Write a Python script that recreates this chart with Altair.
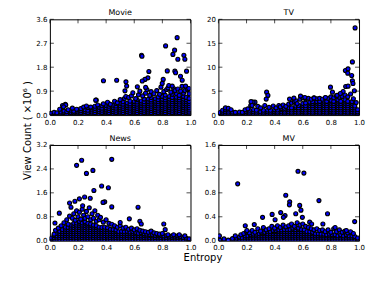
import altair as alt
import pandas as pd

panel_names = ["Movie", "TV", "News", "MV"]
x_ticks = [0.0, 0.2, 0.4, 0.6, 0.8, 1.0]
movie_y_ticks = [0.0, 0.9, 1.8, 2.7, 3.6]
tv_y_ticks = [0, 5, 10, 15, 20]
news_y_ticks = [0.0, 0.8, 1.6, 2.4, 3.2]
mv_y_ticks = [0.0, 0.4, 0.8, 1.2, 1.6]

# ---- Movie: dense mass (x, [y...]) and scattered points (x, y)
movie_bulk = [
    (0.01, [0.02, 0.07]), (0.03, [0.03, 0.10]), (0.05, [0.02, 0.08]), (0.08, [0.03, 0.11]),
    (0.10, [0.02, 0.09, 0.15]), (0.12, [0.04, 0.12]), (0.15, [0.03, 0.10, 0.18]),
    (0.17, [0.02, 0.08, 0.14]), (0.20, [0.03, 0.11, 0.19]), (0.22, [0.02, 0.09, 0.16, 0.24]),
    (0.25, [0.04, 0.12, 0.20]), (0.27, [0.02, 0.10, 0.18, 0.28]), (0.30, [0.03, 0.11, 0.19, 0.27]),
    (0.32, [0.02, 0.09, 0.17, 0.25, 0.33]), (0.35, [0.04, 0.12, 0.20, 0.29]),
    (0.37, [0.02, 0.10, 0.18, 0.26, 0.35]), (0.40, [0.03, 0.11, 0.19, 0.27, 0.36]),
    (0.42, [0.02, 0.09, 0.17, 0.25, 0.33, 0.42]), (0.45, [0.04, 0.12, 0.20, 0.28, 0.37]),
    (0.47, [0.02, 0.10, 0.18, 0.26, 0.34, 0.43]), (0.50, [0.03, 0.11, 0.19, 0.27, 0.35, 0.44]),
    (0.52, [0.02, 0.09, 0.17, 0.25, 0.33, 0.41, 0.50]), (0.55, [0.04, 0.12, 0.20, 0.28, 0.36, 0.45]),
    (0.57, [0.02, 0.10, 0.18, 0.26, 0.34, 0.42, 0.52]), (0.60, [0.03, 0.11, 0.19, 0.27, 0.35, 0.43, 0.51]),
    (0.62, [0.02, 0.09, 0.17, 0.25, 0.33, 0.41, 0.49, 0.58]),
    (0.65, [0.04, 0.12, 0.20, 0.28, 0.36, 0.44, 0.53]),
    (0.67, [0.02, 0.10, 0.18, 0.26, 0.34, 0.42, 0.50, 0.60]),
    (0.70, [0.03, 0.11, 0.19, 0.27, 0.35, 0.43, 0.51, 0.60]),
    (0.72, [0.02, 0.09, 0.17, 0.25, 0.33, 0.41, 0.49, 0.57, 0.66]),
    (0.75, [0.04, 0.12, 0.20, 0.28, 0.36, 0.44, 0.52, 0.61]),
    (0.77, [0.02, 0.10, 0.18, 0.26, 0.34, 0.42, 0.50, 0.58, 0.68]),
    (0.80, [0.03, 0.11, 0.19, 0.27, 0.35, 0.43, 0.51, 0.59, 0.70]),
    (0.82, [0.02, 0.09, 0.17, 0.25, 0.33, 0.41, 0.49, 0.57, 0.65, 0.75]),
    (0.85, [0.04, 0.12, 0.20, 0.28, 0.36, 0.44, 0.52, 0.60, 0.70]),
    (0.87, [0.02, 0.10, 0.18, 0.26, 0.34, 0.42, 0.50, 0.58, 0.66, 0.78]),
    (0.90, [0.03, 0.11, 0.19, 0.27, 0.35, 0.43, 0.51, 0.59, 0.67, 0.80]),
    (0.92, [0.02, 0.09, 0.17, 0.25, 0.33, 0.41, 0.49, 0.57, 0.65, 0.74]),
    (0.95, [0.04, 0.12, 0.20, 0.28, 0.36, 0.44, 0.52, 0.60, 0.70, 0.82]),
    (0.97, [0.02, 0.10, 0.18, 0.26, 0.34, 0.42, 0.50, 0.58, 0.66]),
    (0.99, [0.03, 0.11, 0.19, 0.27, 0.35, 0.43, 0.51, 0.62]),
]
movie_pts = [
    (0.07, 0.22), (0.09, 0.36), (0.11, 0.40), (0.13, 0.20), (0.16, 0.26), (0.19, 0.22),
    (0.24, 0.30), (0.26, 0.34), (0.29, 0.30), (0.33, 0.56), (0.34, 0.38), (0.38, 0.42),
    (0.41, 0.48), (0.43, 0.40), (0.46, 0.52), (0.48, 0.46), (0.50, 0.58), (0.53, 0.62),
    (0.54, 0.70), (0.56, 0.66), (0.58, 0.72), (0.59, 0.84), (0.61, 0.62), (0.63, 0.76),
    (0.64, 0.90), (0.66, 0.72), (0.68, 0.82), (0.69, 0.96), (0.71, 0.74), (0.72, 0.88),
    (0.74, 0.80), (0.76, 0.92), (0.78, 0.78), (0.79, 1.05), (0.81, 0.88), (0.83, 0.96),
    (0.84, 1.02), (0.86, 0.86), (0.88, 1.00), (0.89, 0.92), (0.91, 0.98), (0.93, 0.90),
    (0.94, 1.08), (0.96, 0.92), (0.98, 0.96), (0.99, 0.80),
    (0.905, 2.91), (0.823, 2.60), (0.652, 2.25), (0.655, 2.21), (0.887, 2.44), (0.875, 2.28),
    (0.953, 2.25), (0.910, 2.10), (0.960, 2.10), (0.835, 1.66), (0.889, 1.65), (0.894, 1.59),
    (0.972, 1.65), (0.704, 1.64), (0.697, 1.40), (0.676, 1.34), (0.657, 1.28), (0.475, 1.31),
    (0.381, 1.29), (0.541, 1.25), (0.546, 1.09), (0.534, 0.91), (0.622, 1.06), (0.681, 1.04),
    (0.806, 1.34), (0.799, 1.19), (0.846, 1.11), (0.870, 1.09), (0.929, 1.46), (0.941, 1.31),
    (0.965, 1.09), (0.988, 1.00), (0.326, 0.56), (0.113, 0.38), (0.097, 0.31),
]

# ---- TV
tv_bulk = [
    (0.01, [0.15, 0.5]), (0.03, [0.15, 0.6, 1.0]), (0.05, [0.2, 0.65, 1.1]), (0.07, [0.15, 0.6, 1.05]),
    (0.10, [0.2, 0.6]), (0.12, [0.15, 0.55]), (0.15, [0.2, 0.6]), (0.17, [0.15, 0.55]),
    (0.20, [0.2, 0.65]), (0.22, [0.15, 0.6, 1.0]), (0.25, [0.2, 0.65, 1.1]), (0.27, [0.15, 0.6, 1.0]),
    (0.30, [0.2, 0.65]), (0.32, [0.15, 0.6, 1.0]), (0.35, [0.2, 0.65, 1.05]), (0.37, [0.15, 0.6, 1.0]),
    (0.40, [0.2, 0.65, 1.1]), (0.42, [0.15, 0.6, 1.05]), (0.45, [0.2, 0.65, 1.1, 1.35]),
    (0.47, [0.15, 0.6, 1.05, 1.4]), (0.50, [0.2, 0.65, 1.1, 1.5]), (0.52, [0.15, 0.6, 1.05, 1.5]),
    (0.55, [0.2, 0.65, 1.1, 1.55, 1.9]), (0.57, [0.15, 0.6, 1.05, 1.5, 2.0]),
    (0.60, [0.2, 0.65, 1.1, 1.55, 2.0, 2.4]), (0.62, [0.15, 0.6, 1.05, 1.5, 1.95, 2.5]),
    (0.65, [0.2, 0.65, 1.1, 1.55, 2.0, 2.45, 2.7]), (0.67, [0.15, 0.6, 1.05, 1.5, 1.95, 2.4, 2.8]),
    (0.70, [0.2, 0.65, 1.1, 1.55, 2.0, 2.45, 2.8]), (0.72, [0.15, 0.6, 1.05, 1.5, 1.95, 2.4, 2.85]),
    (0.75, [0.2, 0.65, 1.1, 1.55, 2.0, 2.45, 2.9]), (0.77, [0.15, 0.6, 1.05, 1.5, 1.95, 2.4, 2.85]),
    (0.80, [0.2, 0.65, 1.1, 1.55, 2.0, 2.45, 2.9, 3.1]), (0.82, [0.15, 0.6, 1.05, 1.5, 1.95, 2.4, 2.85]),
    (0.85, [0.2, 0.65, 1.1, 1.55, 2.0, 2.45, 2.9, 3.2]), (0.87, [0.15, 0.6, 1.05, 1.5, 1.95, 2.4, 2.85]),
    (0.90, [0.2, 0.65, 1.1, 1.55, 2.0, 2.45, 2.9, 3.2]), (0.92, [0.15, 0.6, 1.05, 1.5, 1.95, 2.4, 2.85]),
    (0.95, [0.2, 0.65, 1.1, 1.55, 2.0, 2.45, 2.8]), (0.97, [0.15, 0.6, 1.05, 1.5, 1.9]),
    (0.99, [0.2, 0.65, 1.1]),
]
tv_pts = [
    (0.05, 1.5), (0.07, 1.4), (0.09, 1.1), (0.19, 1.1), (0.21, 1.3), (0.23, 2.0), (0.24, 2.6),
    (0.25, 2.4), (0.26, 2.7), (0.28, 1.8), (0.30, 1.5), (0.33, 2.0), (0.36, 1.6), (0.39, 1.9),
    (0.41, 1.5), (0.43, 2.0), (0.44, 1.7), (0.46, 2.1), (0.48, 1.8), (0.50, 2.3), (0.52, 2.5),
    (0.54, 2.8), (0.55, 3.0), (0.56, 2.4), (0.58, 3.3), (0.60, 3.6), (0.62, 3.4), (0.64, 3.5),
    (0.66, 3.3), (0.68, 3.6), (0.70, 3.4), (0.72, 3.5), (0.74, 3.3), (0.76, 3.6), (0.78, 3.5),
    (0.80, 3.8), (0.82, 3.6), (0.84, 4.0), (0.86, 3.7), (0.88, 3.9), (0.90, 4.2), (0.92, 3.8),
    (0.94, 4.4), (0.96, 3.4), (0.98, 2.6),
    (0.972, 18.2), (0.953, 11.1), (0.903, 9.3), (0.922, 9.65), (0.92, 8.75), (0.948, 8.26),
    (0.953, 7.15), (0.957, 6.6), (0.905, 5.97), (0.922, 6.04), (0.967, 5.07), (0.797, 5.83),
    (0.811, 4.79), (0.887, 4.93), (0.343, 4.79), (0.352, 4.1), (0.34, 3.33), (0.506, 3.33),
    (0.246, 2.71), (0.232, 2.8), (0.239, 2.0), (0.537, 3.54), (0.584, 3.96), (0.615, 3.68),
    (0.68, 3.54), (0.761, 3.68), (0.844, 4.1), (0.867, 4.5),
]

# ---- News
news_bulk = [
    (0.01, [0.02, 0.09]), (0.03, [0.03, 0.10, 0.17]), (0.05, [0.02, 0.09, 0.16, 0.24]),
    (0.07, [0.03, 0.10, 0.17, 0.24, 0.31]), (0.09, [0.02, 0.09, 0.16, 0.23, 0.30, 0.37]),
    (0.11, [0.03, 0.10, 0.17, 0.24, 0.31, 0.38, 0.45]), (0.13, [0.02, 0.09, 0.16, 0.23, 0.30, 0.37, 0.44]),
    (0.15, [0.03, 0.10, 0.17, 0.24, 0.31, 0.38, 0.45, 0.52]),
    (0.17, [0.02, 0.09, 0.16, 0.23, 0.30, 0.37, 0.44, 0.51, 0.58]),
    (0.19, [0.03, 0.10, 0.17, 0.24, 0.31, 0.38, 0.45, 0.52, 0.59]),
    (0.21, [0.02, 0.09, 0.16, 0.23, 0.30, 0.37, 0.44, 0.51, 0.58, 0.64]),
    (0.23, [0.03, 0.10, 0.17, 0.24, 0.31, 0.38, 0.45, 0.52, 0.59]),
    (0.25, [0.02, 0.09, 0.16, 0.23, 0.30, 0.37, 0.44, 0.51, 0.58, 0.63]),
    (0.27, [0.03, 0.10, 0.17, 0.24, 0.31, 0.38, 0.45, 0.52, 0.58]),
    (0.29, [0.02, 0.09, 0.16, 0.23, 0.30, 0.37, 0.44, 0.51, 0.56]),
    (0.31, [0.03, 0.10, 0.17, 0.24, 0.31, 0.38, 0.45, 0.52]),
    (0.33, [0.02, 0.09, 0.16, 0.23, 0.30, 0.37, 0.44, 0.50]),
    (0.35, [0.03, 0.10, 0.17, 0.24, 0.31, 0.38, 0.45]), (0.37, [0.02, 0.09, 0.16, 0.23, 0.30, 0.37, 0.44]),
    (0.39, [0.03, 0.10, 0.17, 0.24, 0.31, 0.38, 0.45]), (0.41, [0.02, 0.09, 0.16, 0.23, 0.30, 0.37, 0.43]),
    (0.43, [0.03, 0.10, 0.17, 0.24, 0.31, 0.38]), (0.45, [0.02, 0.09, 0.16, 0.23, 0.30, 0.37]),
    (0.47, [0.03, 0.10, 0.17, 0.24, 0.31, 0.36]), (0.49, [0.02, 0.09, 0.16, 0.23, 0.30]),
    (0.51, [0.03, 0.10, 0.17, 0.24, 0.31]), (0.53, [0.02, 0.09, 0.16, 0.23, 0.30]),
    (0.55, [0.03, 0.10, 0.17, 0.24, 0.31]), (0.57, [0.02, 0.09, 0.16, 0.23, 0.29]),
    (0.59, [0.03, 0.10, 0.17, 0.24, 0.30]), (0.61, [0.02, 0.09, 0.16, 0.23, 0.28]),
    (0.63, [0.03, 0.10, 0.17, 0.24]), (0.65, [0.02, 0.09, 0.16, 0.23, 0.27]),
    (0.67, [0.03, 0.10, 0.17, 0.23]), (0.69, [0.02, 0.09, 0.16, 0.22]), (0.71, [0.03, 0.10, 0.17, 0.21]),
    (0.73, [0.02, 0.09, 0.16, 0.20]), (0.75, [0.03, 0.10, 0.17]), (0.77, [0.02, 0.09, 0.16, 0.19]),
    (0.79, [0.03, 0.10, 0.17]), (0.81, [0.02, 0.09, 0.16]), (0.83, [0.03, 0.10, 0.17]),
    (0.85, [0.02, 0.09, 0.15]), (0.87, [0.03, 0.10, 0.16]), (0.89, [0.02, 0.09, 0.15]),
    (0.91, [0.03, 0.10, 0.16]), (0.93, [0.02, 0.09, 0.14]), (0.95, [0.03, 0.10]),
    (0.97, [0.02, 0.08]), (0.99, [0.03, 0.06]),
]
news_pts = [
    (0.03, 0.22), (0.04, 0.35), (0.06, 0.42), (0.08, 0.50), (0.10, 0.60), (0.12, 0.70), (0.13, 0.55),
    (0.14, 0.82), (0.16, 0.75), (0.17, 0.90), (0.18, 0.68), (0.19, 1.00), (0.20, 0.80), (0.21, 0.95),
    (0.22, 0.72), (0.23, 1.05), (0.24, 0.85), (0.25, 0.75), (0.26, 0.98), (0.27, 0.80), (0.28, 1.10),
    (0.29, 0.70), (0.30, 0.90), (0.31, 0.75), (0.32, 1.00), (0.33, 0.65), (0.34, 0.85), (0.35, 0.70),
    (0.36, 0.78), (0.38, 0.62), (0.40, 0.70), (0.42, 0.58), (0.44, 0.55), (0.46, 0.50), (0.48, 0.45),
    (0.50, 0.50), (0.52, 0.42), (0.54, 0.45), (0.56, 0.38), (0.58, 0.42), (0.60, 0.36), (0.62, 0.40),
    (0.64, 0.35), (0.66, 0.32), (0.68, 0.30), (0.70, 0.28), (0.72, 0.32), (0.74, 0.26), (0.76, 0.24),
    (0.78, 0.22), (0.80, 0.24), (0.84, 0.20), (0.88, 0.20), (0.92, 0.20), (0.96, 0.16),
    (0.44, 2.72), (0.226, 2.69), (0.19, 2.52), (0.26, 2.25), (0.306, 2.35), (0.368, 1.83),
    (0.416, 1.77), (0.313, 1.68), (0.627, 1.12), (0.44, 1.13), (0.39, 1.30), (0.378, 1.28),
    (0.247, 1.46), (0.21, 1.40), (0.287, 1.42), (0.14, 1.26), (0.178, 1.32), (0.233, 1.17),
    (0.15, 1.12), (0.067, 0.92), (0.036, 0.59), (0.565, 0.73), (0.64, 0.65), (0.65, 0.56),
    (0.81, 0.56), (0.82, 0.37), (0.50, 0.61),
]

# ---- MV
mv_bulk = [
    (0.01, [0.01]), (0.04, [0.01, 0.03]), (0.07, [0.01]), (0.10, [0.01, 0.035]), (0.13, [0.01, 0.04]),
    (0.15, [0.01, 0.045, 0.06]), (0.17, [0.01, 0.045]), (0.19, [0.01, 0.045, 0.08]),
    (0.21, [0.01, 0.045, 0.08]), (0.23, [0.01, 0.045, 0.08, 0.10]), (0.25, [0.01, 0.045, 0.08, 0.11]),
    (0.27, [0.01, 0.045, 0.08, 0.11]), (0.29, [0.01, 0.045, 0.08, 0.115]),
    (0.31, [0.01, 0.045, 0.08, 0.115, 0.13]), (0.33, [0.01, 0.045, 0.08, 0.115, 0.14]),
    (0.35, [0.01, 0.045, 0.08, 0.115, 0.15]), (0.37, [0.01, 0.045, 0.08, 0.115, 0.15]),
    (0.39, [0.01, 0.045, 0.08, 0.115, 0.15, 0.17]), (0.41, [0.01, 0.045, 0.08, 0.115, 0.15, 0.17]),
    (0.43, [0.01, 0.045, 0.08, 0.115, 0.15, 0.18]), (0.45, [0.01, 0.045, 0.08, 0.115, 0.15, 0.18]),
    (0.47, [0.01, 0.045, 0.08, 0.115, 0.15, 0.185]), (0.49, [0.01, 0.045, 0.08, 0.115, 0.15, 0.185]),
    (0.51, [0.01, 0.045, 0.08, 0.115, 0.15, 0.185]), (0.53, [0.01, 0.045, 0.08, 0.115, 0.15, 0.185, 0.21]),
    (0.55, [0.01, 0.045, 0.08, 0.115, 0.15, 0.185, 0.22]), (0.57, [0.01, 0.045, 0.08, 0.115, 0.15, 0.185, 0.21]),
    (0.59, [0.01, 0.045, 0.08, 0.115, 0.15, 0.185]), (0.61, [0.01, 0.045, 0.08, 0.115, 0.15, 0.18]),
    (0.63, [0.01, 0.045, 0.08, 0.115, 0.15]), (0.65, [0.01, 0.045, 0.08, 0.115, 0.15]),
    (0.67, [0.01, 0.045, 0.08, 0.115, 0.14]), (0.69, [0.01, 0.045, 0.08, 0.115]),
    (0.71, [0.01, 0.045, 0.08, 0.115]), (0.73, [0.01, 0.045, 0.08, 0.11]), (0.75, [0.01, 0.045, 0.08, 0.11]),
    (0.77, [0.01, 0.045, 0.08, 0.10]), (0.79, [0.01, 0.045, 0.08, 0.11]), (0.81, [0.01, 0.045, 0.08, 0.10]),
    (0.83, [0.01, 0.045, 0.08, 0.10]), (0.85, [0.01, 0.045, 0.08]), (0.87, [0.01, 0.045, 0.08, 0.10]),
    (0.89, [0.01, 0.045, 0.08]), (0.91, [0.01, 0.045, 0.08, 0.10]), (0.93, [0.01, 0.045, 0.08]),
    (0.95, [0.01, 0.045, 0.08]), (0.97, [0.01, 0.045, 0.07]), (0.99, [0.01, 0.045]),
]
mv_pts = [
    (0.12, 0.08), (0.16, 0.10), (0.18, 0.12), (0.20, 0.15), (0.22, 0.13), (0.24, 0.17), (0.26, 0.14),
    (0.28, 0.20), (0.30, 0.16), (0.32, 0.22), (0.34, 0.18), (0.36, 0.20), (0.38, 0.24), (0.40, 0.21),
    (0.42, 0.25), (0.44, 0.22), (0.46, 0.26), (0.48, 0.23), (0.50, 0.25), (0.52, 0.28), (0.54, 0.24),
    (0.56, 0.30), (0.58, 0.26), (0.60, 0.28), (0.62, 0.24), (0.64, 0.22), (0.66, 0.20), (0.68, 0.18),
    (0.70, 0.20), (0.72, 0.17), (0.74, 0.18), (0.76, 0.15), (0.78, 0.18), (0.80, 0.14), (0.82, 0.20),
    (0.84, 0.15), (0.86, 0.18), (0.88, 0.14), (0.90, 0.16), (0.92, 0.13), (0.94, 0.15), (0.96, 0.12),
    (0.566, 1.16), (0.608, 1.13), (0.137, 0.95), (0.479, 0.76), (0.715, 0.67), (0.507, 0.65),
    (0.505, 0.60), (0.578, 0.59), (0.587, 0.51), (0.776, 0.45), (0.443, 0.47), (0.382, 0.44),
    (0.474, 0.42), (0.462, 0.39), (0.55, 0.45), (0.597, 0.39), (0.314, 0.39), (0.255, 0.27),
    (0.191, 0.25), (0.203, 0.17), (0.969, 0.32), (0.743, 0.28), (0.649, 0.31), (0.663, 0.28),
    (0.403, 0.35), (0.007, 0.08), (0.83, 0.22), (0.91, 0.17),
]

W, H = 141, 96
FONT = "DejaVu Sans"


def to_df(bulk, pts):
    rows = [(x, y) for x, ys in bulk for y in ys] + list(pts)
    return pd.DataFrame(rows, columns=["x", "y"])


def panel(name, bulk, pts, yticks, yfmt, ytitle=None, xtitle=None):
    df = to_df(bulk, pts)
    xs = alt.Scale(domain=[0, 1], nice=False, zero=False)
    ys = alt.Scale(domain=[yticks[0], yticks[-1]], nice=False, zero=False)
    xaxis_kw = dict(values=x_ticks, format=".1f", ticks=False, domain=False, grid=False,
                    labelFlush=False, labelOverlap=False, labelPadding=3, labelFontSize=7,
                    labelFont=FONT, labelColor="black")
    yaxis_kw = dict(values=yticks, format=yfmt, ticks=False, domain=False, grid=False,
                    labelFlush=False, labelOverlap=False, labelPadding=3, labelFontSize=7,
                    labelFont=FONT, labelColor="black")
    if xtitle:
        xaxis = alt.Axis(title=xtitle, titleFont=FONT, titleFontSize=10, titleFontWeight="normal",
                         titleColor="black", titleX=153, titleY=17, titleAlign="center",
                         titleBaseline="middle", **xaxis_kw)
    else:
        xaxis = alt.Axis(title=None, **xaxis_kw)
    if ytitle:
        yaxis = alt.Axis(title=ytitle, titleFont=FONT, titleFontSize=10, titleFontWeight="normal",
                         titleColor="black", titleX=-22, titleY=111, titleAngle=270,
                         titleAlign="center", titleBaseline="middle", **yaxis_kw)
    else:
        yaxis = alt.Axis(title=None, **yaxis_kw)

    points = alt.Chart(df).mark_point(
        shape="circle", filled=True, fill="#0000ff", stroke="#000000", strokeWidth=1.15,
        size=16, opacity=1, fillOpacity=1, strokeOpacity=1, clip=True,
    ).encode(x=alt.X("x:Q", scale=xs, axis=xaxis), y=alt.Y("y:Q", scale=ys, axis=yaxis))

    xt = pd.DataFrame({"x": x_ticks})
    yt = pd.DataFrame({"y": yticks})
    rule = dict(color="black", strokeWidth=0.7)
    bottom = alt.Chart(xt).mark_rule(**rule).encode(
        x=alt.X("x:Q", scale=xs, axis=xaxis), y=alt.value(H), y2=alt.value(H - 4))
    top = alt.Chart(xt).mark_rule(**rule).encode(
        x=alt.X("x:Q", scale=xs, axis=xaxis), y=alt.value(0), y2=alt.value(4))
    left = alt.Chart(yt).mark_rule(**rule).encode(
        y=alt.Y("y:Q", scale=ys, axis=yaxis), x=alt.value(0), x2=alt.value(4))
    right = alt.Chart(yt).mark_rule(**rule).encode(
        y=alt.Y("y:Q", scale=ys, axis=yaxis), x=alt.value(W), x2=alt.value(W - 4))

    return alt.layer(points, bottom, top, left, right).properties(
        width=W, height=H,
        title=alt.TitleParams(name, font=FONT, fontSize=8, fontWeight="normal", color="black", offset=-2),
    )


movie = panel(panel_names[0], movie_bulk, movie_pts, movie_y_ticks, ".1f",
              ytitle="View Count ( \u00d710\u2076 )")
tv = panel(panel_names[1], tv_bulk, tv_pts, tv_y_ticks, "d")
news = panel(panel_names[2], news_bulk, news_pts, news_y_ticks, ".1f", xtitle="Entropy")
mv = panel(panel_names[3], mv_bulk, mv_pts, mv_y_ticks, ".1f")

chart = alt.concat(
    movie, tv, news, mv, columns=2, spacing={"row": 30, "column": 28}, bounds="flush"
).properties(
    padding={"left": 14, "top": 0, "right": 0, "bottom": 0}, background="white"
).configure_view(stroke="black", strokeWidth=1)

chart.save("out.html", embed_options={"renderer": "svg", "actions": False})
